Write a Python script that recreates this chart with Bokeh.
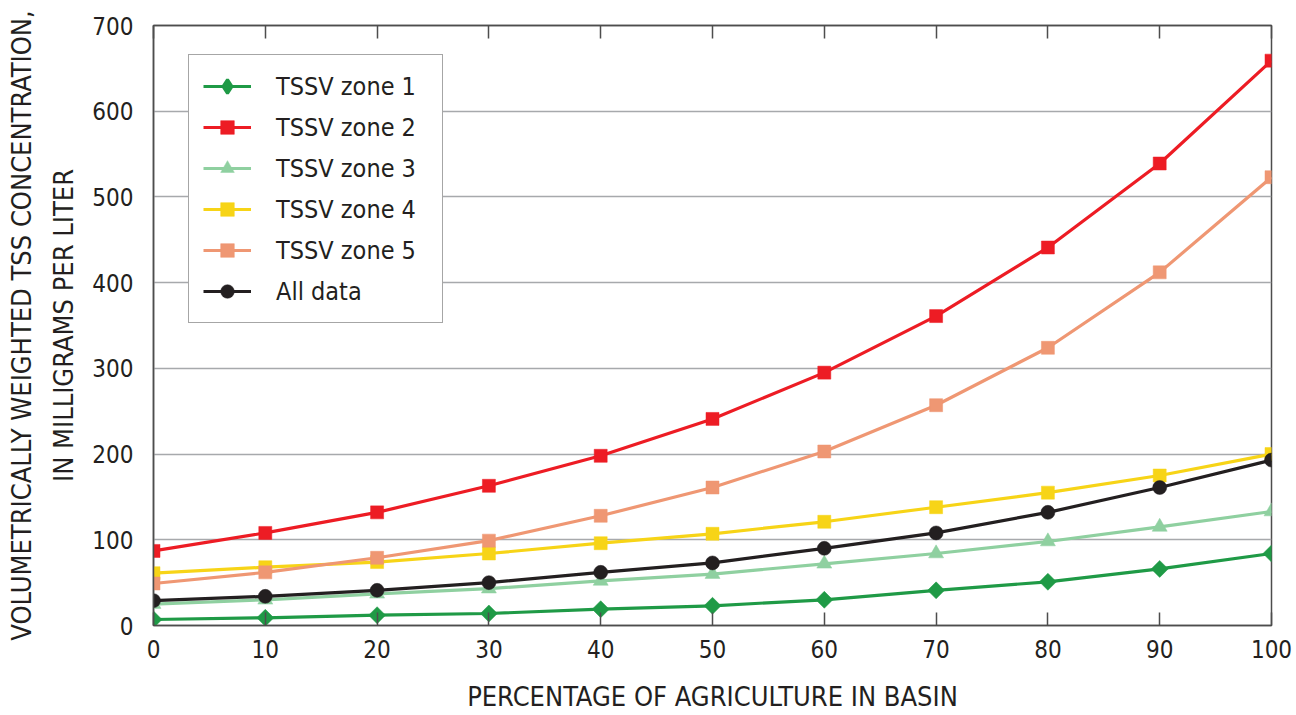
from bokeh.plotting import figure
from bokeh.models import Legend, LegendItem, LinearAxis, FixedTicker
from bokeh.embed import file_html
from bokeh.resources import INLINE
import math

# ---- data ----
pct_agriculture = [0, 10, 20, 30, 40, 50, 60, 70, 80, 90, 100]
zone1 = [7, 9, 12, 14, 19, 23, 30, 41, 51, 66, 84]
zone2 = [87, 108, 132, 163, 198, 241, 295, 361, 441, 539, 659]
zone3 = [25, 30, 37, 43, 52, 60, 72, 84, 98, 115, 133]
zone4 = [61, 68, 74, 84, 96, 107, 121, 138, 155, 175, 200]
zone5 = [49, 62, 79, 99, 128, 161, 203, 257, 324, 412, 523]
all_data = [29, 34, 41, 50, 62, 73, 90, 108, 132, 161, 193]
x_ticks = [0, 10, 20, 30, 40, 50, 60, 70, 80, 90, 100]
y_ticks = [0, 100, 200, 300, 400, 500, 600, 700]

FONT = "Liberation Sans Narrow, DejaVu Sans Condensed, Roboto"
TXT = "#231f20"

p = figure(width=1296, height=715, output_backend="svg", toolbar_location=None,
           x_range=(0, 100), y_range=(0, 700),
           min_border_left=153, min_border_top=25, min_border_right=25, min_border_bottom=90)
p.background_fill_color = "white"
p.border_fill_color = "white"
p.outline_line_color = "#4d4d4d"
p.outline_line_width = 1.5

# grid
p.xgrid.visible = False
p.ygrid.ticker = FixedTicker(ticks=y_ticks)
p.ygrid.grid_line_color = "#a7a9ac"
p.ygrid.grid_line_width = 1.5

# x axis (bottom)
xa = p.xaxis[0]
xa.ticker = FixedTicker(ticks=x_ticks)
xa.axis_label = "PERCENTAGE OF AGRICULTURE IN BASIN"
xa.major_tick_in = 13
xa.major_tick_out = 0
xa.minor_tick_in = 0
xa.minor_tick_out = 0
xa.major_tick_line_color = "#4d4d4d"
xa.major_tick_line_width = 1.5
xa.axis_line_color = "#4d4d4d"
xa.axis_line_width = 1.5
xa.major_label_standoff = 14
xa.axis_label_standoff = 20

# top axis with inward ticks, no labels
ta = LinearAxis(ticker=FixedTicker(ticks=x_ticks))
ta.major_label_text_font_size = "0px"
ta.major_tick_in = 13
ta.major_tick_out = 0
ta.minor_tick_in = 0
ta.minor_tick_out = 0
ta.major_tick_line_color = "#4d4d4d"
ta.major_tick_line_width = 1.5
ta.axis_line_color = "#4d4d4d"
ta.axis_line_width = 1.5
ta.major_label_standoff = 0
p.add_layout(ta, "above")

# y axis (left)
ya = p.yaxis[0]
ya.ticker = FixedTicker(ticks=y_ticks)
ya.axis_label = "VOLUMETRICALLY WEIGHTED TSS CONCENTRATION,\nIN MILLIGRAMS PER LITER"
ya.major_tick_in = 0
ya.major_tick_out = 0
ya.minor_tick_in = 0
ya.minor_tick_out = 0
ya.axis_line_color = "#4d4d4d"
ya.axis_line_width = 1.5
ya.major_label_standoff = 20
ya.axis_label_standoff = 10
ya.axis_label_text_line_height = 1.36

for ax in (xa, ya):
    ax.major_label_text_font = FONT
    ax.major_label_text_font_size = "24px"
    ax.major_label_text_color = TXT
    ax.axis_label_text_font = FONT
    ax.axis_label_text_font_size = "27px"
    ax.axis_label_text_font_style = "normal"
    ax.axis_label_text_color = TXT

# series
series = [
    ("TSSV zone 1", zone1, "#1f9a46", "square", 12, math.pi / 4),
    ("TSSV zone 2", zone2, "#ed1c24", "square", 13, 0),
    ("TSSV zone 3", zone3, "#8fd0a0", "triangle", 15, 0),
    ("TSSV zone 4", zone4, "#f7d417", "square", 13, 0),
    ("TSSV zone 5", zone5, "#ef9773", "square", 13, 0),
    ("All data", all_data, "#231f20", "circle", 14, 0),
]
draw_order = [0, 2, 3, 4, 5, 1]
items = {}
for i in draw_order:
    name, vals, col, mk, sz, ang = series[i]
    l = p.line(pct_agriculture, vals, line_color=col, line_width=3.2)
    s = p.scatter(pct_agriculture, vals, marker=mk, size=sz, angle=ang,
                  fill_color=col, line_color=col, line_width=0.5)
    rends = [l, s]
    if ang != 0:
        # legend-only diamond (the legend does not rotate markers)
        d = p.scatter(pct_agriculture, vals, marker="diamond", size=sz,
                      fill_color=col, line_color=col, line_width=3, visible=False)
        rends = [l, d]
    items[i] = LegendItem(label=name, renderers=rends)

legend = Legend(items=[items[i] for i in range(6)], location=(35, 302))
legend.label_text_font = FONT
legend.label_text_font_size = "25px"
legend.label_text_color = TXT
legend.glyph_width = 48
legend.glyph_height = 34
legend.label_height = 34
legend.label_width = 152
legend.label_standoff = 25
legend.spacing = 7
legend.padding = 14
legend.margin = 0
legend.border_line_color = "#4d4d4d"
legend.border_line_width = 1.5
legend.background_fill_alpha = 1
legend.inactive_fill_alpha = 0
p.add_layout(legend, "center")

open("out.html", "w").write(file_html(p, INLINE))
